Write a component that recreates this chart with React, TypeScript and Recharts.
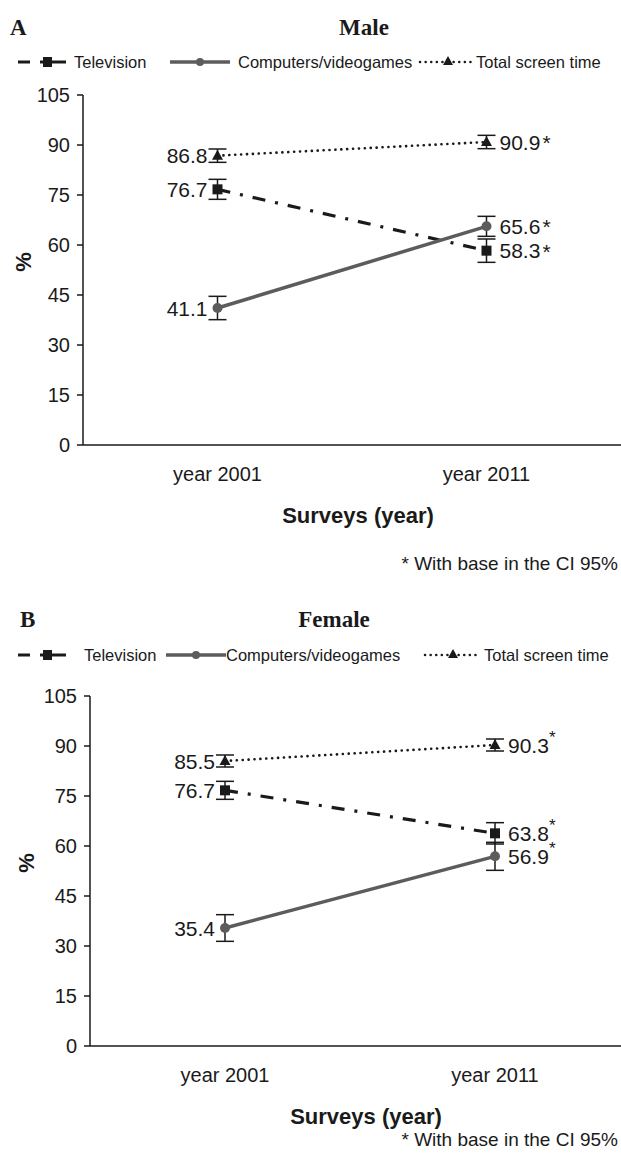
import React from 'react';
import { LineChart, Line, XAxis, YAxis, ErrorBar, LabelList, Label } from 'recharts';

const years = ['year 2001', 'year 2011'];
const yTicks = [0, 15, 30, 45, 60, 75, 90, 105];

const maleTelevision = [76.7, 58.3];
const maleTelevisionCI = [3, 3.5];
const maleComputers = [41.1, 65.6];
const maleComputersCI = [3.5, 3];
const maleTotal = [86.8, 90.9];
const maleTotalCI = [2, 2];

const femaleTelevision = [76.7, 63.8];
const femaleTelevisionCI = [2.7, 3.2];
const femaleComputers = [35.4, 56.9];
const femaleComputersCI = [4, 4.2];
const femaleTotal = [85.5, 90.3];
const femaleTotalCI = [1.8, 1.8];

const sans = '"Liberation Sans", Arial, Helvetica, sans-serif';
const serif = '"Liberation Serif", "Times New Roman", serif';
const ink = '#1a1a1a';
const gray = '#5c5c5c';

const buildRows = (tv: number[], tvCI: number[], cv: number[], cvCI: number[], tst: number[], tstCI: number[]) =>
  years.map((year, i) => ({
    year,
    tv: tv[i],
    tvErr: tvCI[i],
    cv: cv[i],
    cvErr: cvCI[i],
    tst: tst[i],
    tstErr: tstCI[i],
  }));

const maleRows = buildRows(maleTelevision, maleTelevisionCI, maleComputers, maleComputersCI, maleTotal, maleTotalCI);
const femaleRows = buildRows(femaleTelevision, femaleTelevisionCI, femaleComputers, femaleComputersCI, femaleTotal, femaleTotalCI);

const squareDot = (p: any) =>
  p.cx == null ? null : <rect key={`sq${p.index}`} x={p.cx - 5} y={p.cy - 5} width={10} height={10} fill={ink} />;
const circleDot = (p: any) =>
  p.cx == null ? null : <circle key={`ci${p.index}`} cx={p.cx} cy={p.cy} r={5} fill={gray} />;
const triangleDot = (p: any) =>
  p.cx == null ? null : (
    <path key={`tr${p.index}`} d={`M${p.cx},${p.cy - 6} L${p.cx + 5.5},${p.cy + 4} L${p.cx - 5.5},${p.cy + 4} Z`} fill={ink} />
  );

const makeLabel = (superStar: boolean) => (p: any) => {
  const { x, y, value, index } = p;
  if (x == null) return null;
  if (index === 0) {
    return (
      <text x={x - 10} y={y} textAnchor="end" dominantBaseline="central" fontSize={21} fill={ink} fontFamily={sans}>
        {value}
      </text>
    );
  }
  return (
    <text x={x + 13} y={y} textAnchor="start" dominantBaseline="central" fontSize={21} fill={ink} fontFamily={sans}>
      {value}
      {superStar ? (
        <tspan dy={-8} fontSize={17}>*</tspan>
      ) : (
        <tspan dx={2}>*</tspan>
      )}
    </text>
  );
};

type LegendProps = { top: number; tvText: number; cvIcon: number; cvText: number; tstIcon: number; tstText: number };

const ChartLegend = ({ top, tvText, cvIcon, cvText, tstIcon, tstText }: LegendProps) => (
  <svg width={621} height={24} style={{ position: 'absolute', left: 0, top }}>
    <g stroke={ink} strokeWidth={3}>
      <line x1={18} y1={12} x2={30} y2={12} />
      <line x1={40} y1={12} x2={66} y2={12} />
    </g>
    <rect x={43} y={7} width={9} height={10} fill={ink} />
    <text x={tvText} y={12} dominantBaseline="central" fontSize={16.5} fill={ink} fontFamily={sans}>Television</text>
    <line x1={cvIcon} y1={12} x2={cvIcon + 60} y2={12} stroke={gray} strokeWidth={3.5} />
    <circle cx={cvIcon + 30} cy={12} r={4} fill={gray} />
    <text x={cvText} y={12} dominantBaseline="central" fontSize={16.5} fill={ink} fontFamily={sans}>Computers/videogames</text>
    <line x1={tstIcon} y1={12} x2={tstIcon + 56} y2={12} stroke={ink} strokeWidth={2.5} strokeDasharray="0.1 5.5" strokeLinecap="round" />
    <path d={`M${tstIcon + 28},6 L${tstIcon + 33},15 L${tstIcon + 23},15 Z`} fill={ink} />
    <text x={tstText} y={12} dominantBaseline="central" fontSize={16.5} fill={ink} fontFamily={sans}>Total screen time</text>
  </svg>
);

type PanelProps = {
  rows: any[];
  top: number;
  width: number;
  axisWidth: number;
  pctX: number;
  superStar: boolean;
};

const Panel = ({ rows, top, width, axisWidth, pctX, superStar }: PanelProps) => (
  <div style={{ position: 'absolute', left: 0, top }}>
    <LineChart width={width} height={530} data={rows} margin={{ top: 95, right: 0, bottom: 0, left: 0 }}>
      <XAxis
        dataKey="year"
        scale="band"
        tickLine={false}
        tickSize={0}
        tickMargin={22}
        height={85}
        axisLine={{ stroke: ink, strokeWidth: 1.5 }}
        tick={{ fill: ink, fontSize: 20, fontFamily: sans }}
      >
        <Label
          content={(p: any) => (
            <text
              x={p.viewBox.x + p.viewBox.width / 2 + 6}
              y={p.viewBox.y + 70}
              textAnchor="middle"
              dominantBaseline="central"
              fontSize={22}
              fontWeight="bold"
              fill={ink}
              fontFamily={sans}
            >
              Surveys (year)
            </text>
          )}
        />
      </XAxis>
      <YAxis
        domain={[0, 105]}
        ticks={yTicks}
        width={axisWidth}
        tickSize={6}
        tickMargin={7}
        interval={0}
        axisLine={{ stroke: ink, strokeWidth: 1.5 }}
        tickLine={{ stroke: ink, strokeWidth: 1.5 }}
        tick={{ fill: ink, fontSize: 20, fontFamily: sans }}
      >
        <Label
          content={(p: any) => {
            const cy = p.viewBox.y + p.viewBox.height / 2 - 8;
            return (
              <text
                x={pctX}
                y={cy}
                transform={`rotate(-90 ${pctX} ${cy})`}
                textAnchor="middle"
                dominantBaseline="central"
                fontSize={22}
                fontWeight="bold"
                fill={ink}
                fontFamily={sans}
              >
                %
              </text>
            );
          }}
        />
      </YAxis>
      <Line
        dataKey="tst"
        type="linear"
        stroke={ink}
        strokeWidth={2.6}
        strokeDasharray="0.1 5.8"
        strokeLinecap="round"
        dot={triangleDot}
        activeDot={false}
        isAnimationActive={false}
      >
        <ErrorBar dataKey="tstErr" width={9} stroke={ink} strokeWidth={1.5} direction="y" />
        <LabelList dataKey="tst" content={makeLabel(superStar)} />
      </Line>
      <Line
        dataKey="tv"
        type="linear"
        stroke={ink}
        strokeWidth={3.2}
        strokeDasharray="13 10 3 10"
        dot={squareDot}
        activeDot={false}
        isAnimationActive={false}
      >
        <ErrorBar dataKey="tvErr" width={9} stroke={ink} strokeWidth={1.5} direction="y" />
        <LabelList dataKey="tv" content={makeLabel(superStar)} />
      </Line>
      <Line
        dataKey="cv"
        type="linear"
        stroke={gray}
        strokeWidth={3.5}
        dot={circleDot}
        activeDot={false}
        isAnimationActive={false}
      >
        <ErrorBar dataKey="cvErr" width={9} stroke={ink} strokeWidth={1.5} direction="y" />
        <LabelList dataKey="cv" content={makeLabel(superStar)} />
      </Line>
    </LineChart>
  </div>
);

const titleStyle: React.CSSProperties = {
  position: 'absolute',
  fontFamily: serif,
  fontWeight: 'bold',
  fontSize: 23,
  color: ink,
  lineHeight: '26px',
  margin: 0,
};

const footStyle: React.CSSProperties = {
  position: 'absolute',
  right: 3,
  fontFamily: sans,
  fontSize: 19,
  color: ink,
  lineHeight: '22px',
  whiteSpace: 'nowrap',
};

export default function App() {
  return (
    <div style={{ position: 'absolute', left: 0, top: 0, width: 621, height: 1156, overflow: 'hidden', background: '#fff' }}>
      <div style={{ ...titleStyle, left: 10, top: 15 }}>A</div>
      <div style={{ ...titleStyle, left: 364, top: 15, transform: 'translateX(-50%)' }}>Male</div>
      <ChartLegend top={50} tvText={74} cvIcon={170} cvText={238} tstIcon={420} tstText={476} />
      <Panel rows={maleRows} top={0} width={621} axisWidth={83} pctX={23} superStar={false} />
      <div style={{ ...footStyle, top: 553 }}>* With base in the CI 95%</div>

      <div style={{ ...titleStyle, left: 20, top: 607 }}>B</div>
      <div style={{ ...titleStyle, left: 334, top: 607, transform: 'translateX(-50%)' }}>Female</div>
      <ChartLegend top={643} tvText={84} cvIcon={166} cvText={226} tstIcon={425} tstText={484} />
      <Panel rows={femaleRows} top={601} width={630} axisWidth={90} pctX={26} superStar={true} />
      <div style={{ ...footStyle, top: 1129 }}>* With base in the CI 95%</div>
    </div>
  );
}
